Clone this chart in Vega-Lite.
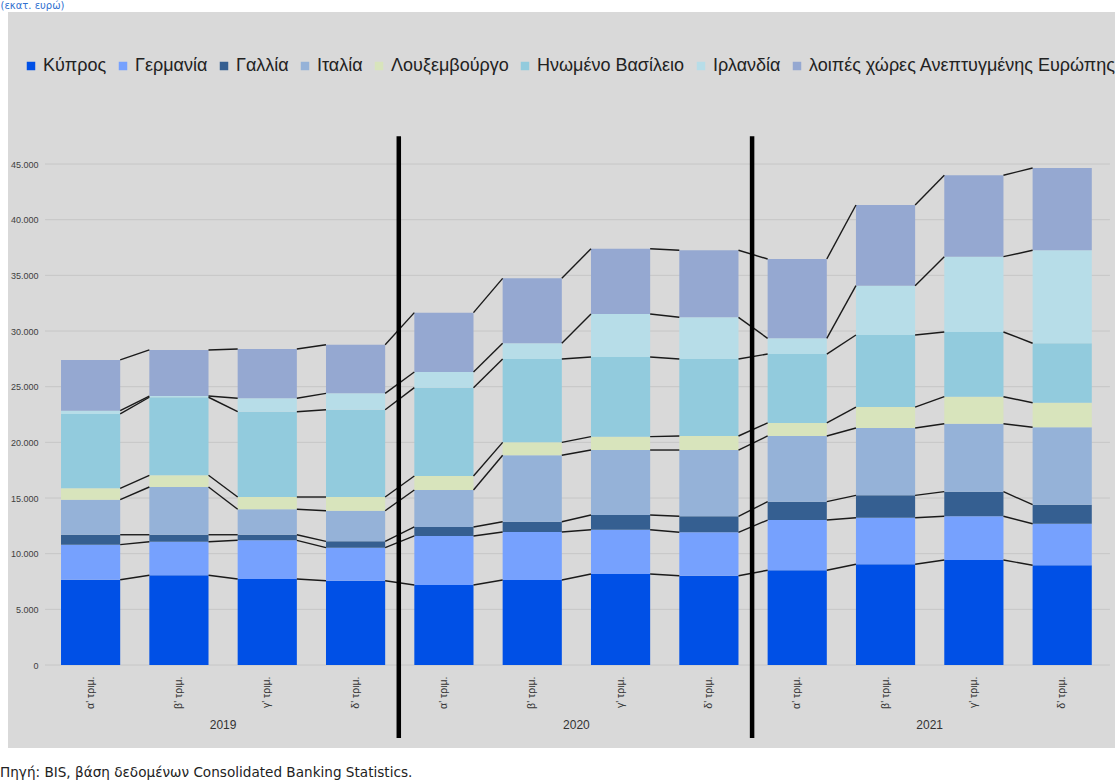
{
  "$schema": "https://vega.github.io/schema/vega-lite/v6.json",
  "autosize": {"type": "none"},
  "padding": {"left": 8, "top": 12, "right": 0, "bottom": 34},
  "width": 1107,
  "height": 736,
  "background": "white",
  "config": {
    "view": {"fill": "#d9d9d9", "stroke": null},
    "font": "Liberation Sans"
  },
  "title": {
    "text": "Πηγή: BIS, βάση δεδομένων Consolidated Banking Statistics.",
    "orient": "bottom",
    "anchor": "start",
    "frame": "group",
    "offset": 29,
    "dx": -8,
    "baseline": "alphabetic",
    "font": "DejaVu Sans",
    "fontSize": 13.6,
    "fontWeight": "normal",
    "color": "#222222"
  },
  "datasets": {
    "bars": [
      {"q":"2019-1","qi":1,"o":0,"s":"Κύπρος","v":7660},
      {"q":"2019-1","qi":1,"o":1,"s":"Γερμανία","v":3150},
      {"q":"2019-1","qi":1,"o":2,"s":"Γαλλία","v":890},
      {"q":"2019-1","qi":1,"o":3,"s":"Ιταλία","v":3150},
      {"q":"2019-1","qi":1,"o":4,"s":"Λουξεμβούργο","v":1020},
      {"q":"2019-1","qi":1,"o":5,"s":"Ηνωμένο Βασίλειο","v":6680},
      {"q":"2019-1","qi":1,"o":6,"s":"Ιρλανδία","v":290},
      {"q":"2019-1","qi":1,"o":7,"s":"λοιπές χώρες Ανεπτυγμένης Ευρώπης","v":4560},
      {"q":"2019-2","qi":2,"o":0,"s":"Κύπρος","v":8060},
      {"q":"2019-2","qi":2,"o":1,"s":"Γερμανία","v":3010},
      {"q":"2019-2","qi":2,"o":2,"s":"Γαλλία","v":630},
      {"q":"2019-2","qi":2,"o":3,"s":"Ιταλία","v":4290},
      {"q":"2019-2","qi":2,"o":4,"s":"Λουξεμβούργο","v":1050},
      {"q":"2019-2","qi":2,"o":5,"s":"Ηνωμένο Βασίλειο","v":7010},
      {"q":"2019-2","qi":2,"o":6,"s":"Ιρλανδία","v":110},
      {"q":"2019-2","qi":2,"o":7,"s":"λοιπές χώρες Ανεπτυγμένης Ευρώπης","v":4140},
      {"q":"2019-3","qi":3,"o":0,"s":"Κύπρος","v":7720},
      {"q":"2019-3","qi":3,"o":1,"s":"Γερμανία","v":3480},
      {"q":"2019-3","qi":3,"o":2,"s":"Γαλλία","v":500},
      {"q":"2019-3","qi":3,"o":3,"s":"Ιταλία","v":2290},
      {"q":"2019-3","qi":3,"o":4,"s":"Λουξεμβούργο","v":1100},
      {"q":"2019-3","qi":3,"o":5,"s":"Ηνωμένο Βασίλειο","v":7660},
      {"q":"2019-3","qi":3,"o":6,"s":"Ιρλανδία","v":1210},
      {"q":"2019-3","qi":3,"o":7,"s":"λοιπές χώρες Ανεπτυγμένης Ευρώπης","v":4420},
      {"q":"2019-4","qi":4,"o":0,"s":"Κύπρος","v":7570},
      {"q":"2019-4","qi":4,"o":1,"s":"Γερμανία","v":2970},
      {"q":"2019-4","qi":4,"o":2,"s":"Γαλλία","v":570},
      {"q":"2019-4","qi":4,"o":3,"s":"Ιταλία","v":2750},
      {"q":"2019-4","qi":4,"o":4,"s":"Λουξεμβούργο","v":1230},
      {"q":"2019-4","qi":4,"o":5,"s":"Ηνωμένο Βασίλειο","v":7840},
      {"q":"2019-4","qi":4,"o":6,"s":"Ιρλανδία","v":1470},
      {"q":"2019-4","qi":4,"o":7,"s":"λοιπές χώρες Ανεπτυγμένης Ευρώπης","v":4370},
      {"q":"2020-1","qi":5,"o":0,"s":"Κύπρος","v":7190},
      {"q":"2020-1","qi":5,"o":1,"s":"Γερμανία","v":4400},
      {"q":"2020-1","qi":5,"o":2,"s":"Γαλλία","v":810},
      {"q":"2020-1","qi":5,"o":3,"s":"Ιταλία","v":3320},
      {"q":"2020-1","qi":5,"o":4,"s":"Λουξεμβούργο","v":1260},
      {"q":"2020-1","qi":5,"o":5,"s":"Ηνωμένο Βασίλειο","v":7930},
      {"q":"2020-1","qi":5,"o":6,"s":"Ιρλανδία","v":1410},
      {"q":"2020-1","qi":5,"o":7,"s":"λοιπές χώρες Ανεπτυγμένης Ευρώπης","v":5330},
      {"q":"2020-2","qi":6,"o":0,"s":"Κύπρος","v":7630},
      {"q":"2020-2","qi":6,"o":1,"s":"Γερμανία","v":4320},
      {"q":"2020-2","qi":6,"o":2,"s":"Γαλλία","v":920},
      {"q":"2020-2","qi":6,"o":3,"s":"Ιταλία","v":5970},
      {"q":"2020-2","qi":6,"o":4,"s":"Λουξεμβούργο","v":1160},
      {"q":"2020-2","qi":6,"o":5,"s":"Ηνωμένο Βασίλειο","v":7490},
      {"q":"2020-2","qi":6,"o":6,"s":"Ιρλανδία","v":1410},
      {"q":"2020-2","qi":6,"o":7,"s":"λοιπές χώρες Ανεπτυγμένης Ευρώπης","v":5830},
      {"q":"2020-3","qi":7,"o":0,"s":"Κύπρος","v":8170},
      {"q":"2020-3","qi":7,"o":1,"s":"Γερμανία","v":3980},
      {"q":"2020-3","qi":7,"o":2,"s":"Γαλλία","v":1320},
      {"q":"2020-3","qi":7,"o":3,"s":"Ιταλία","v":5840},
      {"q":"2020-3","qi":7,"o":4,"s":"Λουξεμβούργο","v":1200},
      {"q":"2020-3","qi":7,"o":5,"s":"Ηνωμένο Βασίλειο","v":7160},
      {"q":"2020-3","qi":7,"o":6,"s":"Ιρλανδία","v":3860},
      {"q":"2020-3","qi":7,"o":7,"s":"λοιπές χώρες Ανεπτυγμένης Ευρώπης","v":5860},
      {"q":"2020-4","qi":8,"o":0,"s":"Κύπρος","v":8020},
      {"q":"2020-4","qi":8,"o":1,"s":"Γερμανία","v":3900},
      {"q":"2020-4","qi":8,"o":2,"s":"Γαλλία","v":1440},
      {"q":"2020-4","qi":8,"o":3,"s":"Ιταλία","v":5950},
      {"q":"2020-4","qi":8,"o":4,"s":"Λουξεμβούργο","v":1260},
      {"q":"2020-4","qi":8,"o":5,"s":"Ηνωμένο Βασίλειο","v":6920},
      {"q":"2020-4","qi":8,"o":6,"s":"Ιρλανδία","v":3740},
      {"q":"2020-4","qi":8,"o":7,"s":"λοιπές χώρες Ανεπτυγμένης Ευρώπης","v":6020},
      {"q":"2021-1","qi":9,"o":0,"s":"Κύπρος","v":8510},
      {"q":"2021-1","qi":9,"o":1,"s":"Γερμανία","v":4510},
      {"q":"2021-1","qi":9,"o":2,"s":"Γαλλία","v":1650},
      {"q":"2021-1","qi":9,"o":3,"s":"Ιταλία","v":5900},
      {"q":"2021-1","qi":9,"o":4,"s":"Λουξεμβούργο","v":1170},
      {"q":"2021-1","qi":9,"o":5,"s":"Ηνωμένο Βασίλειο","v":6190},
      {"q":"2021-1","qi":9,"o":6,"s":"Ιρλανδία","v":1410},
      {"q":"2021-1","qi":9,"o":7,"s":"λοιπές χώρες Ανεπτυγμένης Ευρώπης","v":7130},
      {"q":"2021-2","qi":10,"o":0,"s":"Κύπρος","v":9050},
      {"q":"2021-2","qi":10,"o":1,"s":"Γερμανία","v":4180},
      {"q":"2021-2","qi":10,"o":2,"s":"Γαλλία","v":2010},
      {"q":"2021-2","qi":10,"o":3,"s":"Ιταλία","v":6050},
      {"q":"2021-2","qi":10,"o":4,"s":"Λουξεμβούργο","v":1880},
      {"q":"2021-2","qi":10,"o":5,"s":"Ηνωμένο Βασίλειο","v":6470},
      {"q":"2021-2","qi":10,"o":6,"s":"Ιρλανδία","v":4430},
      {"q":"2021-2","qi":10,"o":7,"s":"λοιπές χώρες Ανεπτυγμένης Ευρώπης","v":7250},
      {"q":"2021-3","qi":11,"o":0,"s":"Κύπρος","v":9430},
      {"q":"2021-3","qi":11,"o":1,"s":"Γερμανία","v":3930},
      {"q":"2021-3","qi":11,"o":2,"s":"Γαλλία","v":2210},
      {"q":"2021-3","qi":11,"o":3,"s":"Ιταλία","v":6100},
      {"q":"2021-3","qi":11,"o":4,"s":"Λουξεμβούργο","v":2430},
      {"q":"2021-3","qi":11,"o":5,"s":"Ηνωμένο Βασίλειο","v":5810},
      {"q":"2021-3","qi":11,"o":6,"s":"Ιρλανδία","v":6770},
      {"q":"2021-3","qi":11,"o":7,"s":"λοιπές χώρες Ανεπτυγμένης Ευρώπης","v":7310},
      {"q":"2021-4","qi":12,"o":0,"s":"Κύπρος","v":8960},
      {"q":"2021-4","qi":12,"o":1,"s":"Γερμανία","v":3730},
      {"q":"2021-4","qi":12,"o":2,"s":"Γαλλία","v":1710},
      {"q":"2021-4","qi":12,"o":3,"s":"Ιταλία","v":6950},
      {"q":"2021-4","qi":12,"o":4,"s":"Λουξεμβούργο","v":2210},
      {"q":"2021-4","qi":12,"o":5,"s":"Ηνωμένο Βασίλειο","v":5340},
      {"q":"2021-4","qi":12,"o":6,"s":"Ιρλανδία","v":8350},
      {"q":"2021-4","qi":12,"o":7,"s":"λοιπές χώρες Ανεπτυγμένης Ευρώπης","v":7390}
    ],
    "grid": [{"g":0},{"g":5000},{"g":10000},{"g":15000},{"g":20000},{"g":25000},{"g":30000},{"g":35000},{"g":40000},{"g":45000}],
    "years": [{"q":"2019-2","t":"2019"},{"q":"2020-2","t":"2020"},{"q":"2021-2","t":"2021"}],
    "seps": [{"q":"2019-4"},{"q":"2020-4"}]
  },
  "layer": [
    {
      "data": {"name": "grid"},
      "mark": {"type": "rule", "color": "#c6c6c6", "strokeWidth": 1},
      "encoding": {
        "x": {"datum": "2019-1", "type": "nominal", "bandPosition": -0.27},
        "x2": {"datum": "2021-4", "bandPosition": 1.307},
        "y": {"field": "g", "type": "quantitative"}
      }
    },
    {
      "data": {"name": "bars"},
      "mark": {"type": "bar"},
      "encoding": {
        "x": {
          "field": "q", "type": "nominal",
          "scale": {
            "domain": ["2019-1","2019-2","2019-3","2019-4","2020-1","2020-2","2020-3","2020-4","2021-1","2021-2","2021-3","2021-4"],
            "paddingInner": 0.33, "paddingOuter": 0.4315, "align": 0.6955
          },
          "axis": {
            "title": null,
            "labelExpr": "[\"α' τριμ.\", \"β' τριμ.\", \"γ' τριμ.\", \"δ' τριμ.\"][toNumber(slice(datum.value, 5)) - 1]",
            "labelAngle": -90,
            "labelFont": "Liberation Sans",
            "labelFontSize": 10.5,
            "labelColor": "#333333",
            "labelPadding": 11,
            "domain": false,
            "ticks": false,
            "grid": false,
            "offset": -83
          }
        },
        "y": {
          "aggregate": "sum", "field": "v", "type": "quantitative", "stack": "zero",
          "scale": {"domain": [-7455, 58654], "nice": false, "zero": false},
          "axis": {
            "values": [0,5000,10000,15000,20000,25000,30000,35000,40000,45000],
            "labelExpr": "replace(format(datum.value, ','), ',', '.')",
            "labelFont": "Liberation Sans",
            "labelFontSize": 9,
            "labelColor": "#404040",
            "labelPadding": 0,
            "domain": false,
            "ticks": false,
            "grid": false,
            "offset": -30,
            "title": "(εκατ. ευρώ)",
            "titleAngle": 0,
            "titleAlign": "left",
            "titleBaseline": "alphabetic",
            "titleX": -38,
            "titleY": -3.5,
            "titleFont": "DejaVu Sans",
            "titleFontSize": 10,
            "titleFontWeight": "normal",
            "titleColor": "#2f6fd0"
          }
        },
        "color": {
          "field": "s", "type": "nominal",
          "sort": ["Κύπρος","Γερμανία","Γαλλία","Ιταλία","Λουξεμβούργο","Ηνωμένο Βασίλειο","Ιρλανδία","λοιπές χώρες Ανεπτυγμένης Ευρώπης"],
          "scale": {
            "domain": ["Κύπρος","Γερμανία","Γαλλία","Ιταλία","Λουξεμβούργο","Ηνωμένο Βασίλειο","Ιρλανδία","λοιπές χώρες Ανεπτυγμένης Ευρώπης"],
            "range": ["#0050e6","#76a1fe","#355f91","#95b2d8","#d8e4bc","#92cbdd","#b7dde8","#95a8d1"]
          },
          "legend": {
            "title": null,
            "orient": "none",
            "legendX": 14,
            "legendY": 45,
            "direction": "horizontal",
            "columns": 8,
            "symbolType": "square",
            "symbolSize": 72,
            "symbolStrokeWidth": 0,
            "symbolOpacity": 1,
            "labelFont": "Liberation Sans",
            "labelFontSize": 18,
            "labelColor": "#222222",
            "labelOffset": 3,
            "columnPadding": 7,
            "labelLimit": 0
          }
        },
        "order": {"field": "o", "type": "quantitative", "sort": "ascending"}
      }
    },
    {
      "data": {"name": "bars"},
      "transform": [
        {"stack": "v", "groupby": ["q"], "sort": [{"field": "o", "order": "ascending"}], "as": ["y0", "y1"]},
        {"window": [{"op": "lead", "field": "y1", "as": "ny"}, {"op": "lead", "field": "q", "as": "nq"}], "groupby": ["s"], "sort": [{"field": "qi", "order": "ascending"}]},
        {"filter": "datum.nq != null"}
      ],
      "mark": {"type": "rule", "color": "#1a1a1a", "strokeWidth": 1.4},
      "encoding": {
        "x": {"field": "q", "type": "nominal", "bandPosition": 1},
        "x2": {"field": "nq", "bandPosition": 0},
        "y": {"field": "y1", "type": "quantitative"},
        "y2": {"field": "ny"}
      }
    },
    {
      "data": {"name": "seps"},
      "mark": {"type": "rule", "color": "#000000", "strokeWidth": 4.5},
      "encoding": {
        "x": {"field": "q", "type": "nominal", "bandPosition": 1.23},
        "y": {"datum": 47500, "type": "quantitative"},
        "y2": {"datum": -6550}
      }
    },
    {
      "data": {"name": "years"},
      "mark": {"type": "text", "font": "Liberation Sans", "fontSize": 12, "color": "#333333", "baseline": "middle", "align": "center"},
      "encoding": {
        "x": {"field": "q", "type": "nominal", "bandPosition": 1.246},
        "y": {"datum": -5400, "type": "quantitative"},
        "text": {"field": "t"}
      }
    }
  ]
}
